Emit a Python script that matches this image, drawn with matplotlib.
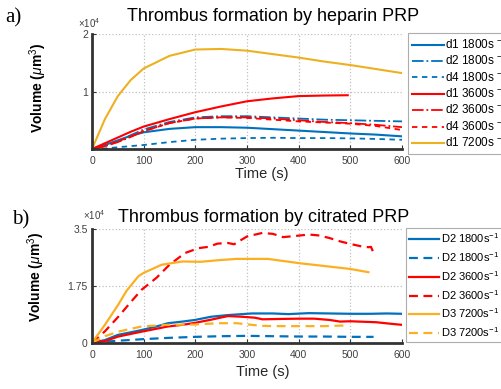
import matplotlib
matplotlib.use('Agg')
import matplotlib.pyplot as plt

plt.rcParams['font.family'] = ['Liberation Sans', 'DejaVu Sans']
plt.rcParams['mathtext.fontset'] = 'custom'
plt.rcParams['mathtext.rm'] = 'Liberation Sans'
plt.rcParams['mathtext.it'] = 'Liberation Sans:italic'

# ---- a) heparin PRP, volumes in units of 1e4 um^3
t_hep = [0, 25, 50, 75, 100, 150, 200, 250, 300, 350, 400, 450, 500, 550, 600]
d1_1800 = [0, 0.07, 0.15, 0.23, 0.29, 0.35, 0.38, 0.38, 0.37, 0.345, 0.32, 0.295, 0.27, 0.25, 0.22]
d2_1800 = [0, 0.06, 0.14, 0.24, 0.34, 0.47, 0.55, 0.57, 0.57, 0.55, 0.53, 0.51, 0.50, 0.49, 0.48]
d4_1800 = [0, 0.01, 0.03, 0.05, 0.07, 0.12, 0.16, 0.18, 0.19, 0.195, 0.19, 0.19, 0.185, 0.175, 0.16]
t_d1_3600 = [0, 25, 50, 75, 100, 150, 200, 250, 300, 350, 400, 450, 495]
d1_3600 = [0, 0.1, 0.2, 0.3, 0.39, 0.52, 0.64, 0.74, 0.83, 0.88, 0.92, 0.93, 0.935]
d2_3600 = [0, 0.05, 0.12, 0.21, 0.31, 0.45, 0.53, 0.55, 0.55, 0.53, 0.50, 0.47, 0.45, 0.42, 0.38]
d4_3600 = [0, 0.05, 0.13, 0.22, 0.31, 0.45, 0.53, 0.55, 0.54, 0.51, 0.48, 0.46, 0.44, 0.40, 0.33]
d1_7200 = [0, 0.52, 0.92, 1.2, 1.4, 1.62, 1.73, 1.74, 1.71, 1.65, 1.59, 1.52, 1.46, 1.39, 1.32]

# ---- b) citrated PRP
t_c_blue = [0, 25, 50, 75, 96, 125, 147, 175, 199, 231, 263, 309, 350, 380, 420, 460, 500, 540, 570, 600]
c_d2_1800 = [0, 0.08, 0.24, 0.32, 0.39, 0.5, 0.6, 0.65, 0.70, 0.80, 0.85, 0.90, 0.9, 0.88, 0.91, 0.9, 0.89, 0.89, 0.9, 0.89]
t_c_blue2 = [0, 25, 50, 100, 150, 200, 250, 300, 350, 400, 450, 500, 545]
c_d2_1800b = [0, 0.03, 0.06, 0.11, 0.15, 0.18, 0.2, 0.21, 0.2, 0.19, 0.19, 0.18, 0.18]
t_c_red = [0, 25, 51, 75, 96, 125, 147, 175, 199, 231, 263, 289, 315, 330, 360, 400, 430, 460, 480, 500, 550, 580, 600]
c_d2_3600 = [0, 0.05, 0.19, 0.27, 0.34, 0.43, 0.5, 0.55, 0.61, 0.71, 0.82, 0.80, 0.77, 0.72, 0.73, 0.74, 0.74, 0.70, 0.65, 0.66, 0.63, 0.58, 0.55]
t_c_red2 = [0, 25, 51, 75, 96, 125, 150, 180, 206, 225, 243, 263, 275, 300, 330, 350, 370, 390, 420, 440, 460, 480, 500, 520, 535, 540, 545]
c_d2_3600b = [0, 0.35, 0.8, 1.25, 1.63, 2.0, 2.4, 2.76, 2.91, 2.95, 3.05, 3.07, 3.03, 3.27, 3.38, 3.35, 3.25, 3.28, 3.33, 3.3, 3.22, 3.12, 3.04, 2.97, 2.94, 2.95, 2.76]
t_c_yel = [0, 25, 50, 67, 90, 100, 135, 175, 210, 245, 280, 340, 400, 450, 500, 535]
c_d3_7200 = [0, 0.55, 1.15, 1.6, 2.05, 2.15, 2.4, 2.5, 2.49, 2.54, 2.58, 2.58, 2.45, 2.36, 2.27, 2.17]
t_c_yel2 = [0, 25, 51, 96, 147, 200, 244, 280, 309, 330, 350, 400, 450, 490]
c_d3_7200b = [0, 0.2, 0.34, 0.5, 0.55, 0.56, 0.6, 0.6, 0.55, 0.52, 0.51, 0.51, 0.51, 0.53]

blue = '#0072BD'
red = '#FF0000'
yel = '#EDB120'
orange = '#FDAF22'

fig = plt.figure(figsize=(5.01, 3.89), dpi=100)
ax1 = fig.add_axes([92 / 501, 1 - 149 / 389, 310 / 501, 115 / 389])
ax2 = fig.add_axes([92 / 501, 1 - 342.7 / 389, 310 / 501, 113.7 / 389])

ax1.plot(t_hep, d1_1800, c=blue, lw=1.5, label='d1 1800s $^{-1}$')
ax1.plot(t_hep, d2_1800, c=blue, lw=1.3, ls='-.', label='d2 1800s $^{-1}$')
ax1.plot(t_hep, d4_1800, c=blue, lw=1.3, ls=(0, (3, 2.5)), label='d4 1800s $^{-1}$')
ax1.plot(t_d1_3600, d1_3600, c=red, lw=1.5, label='d1 3600s $^{-1}$')
ax1.plot(t_hep, d2_3600, c=red, lw=1.3, ls='-.', label='d2 3600s $^{-1}$')
ax1.plot(t_hep, d4_3600, c=red, lw=1.3, ls=(0, (3, 2.5)), label='d4 3600s $^{-1}$')
ax1.plot(t_hep, d1_7200, c=yel, lw=1.5, label='d1 7200s $^{-1}$')

ax2.plot(t_c_blue, c_d2_1800, c=blue, lw=1.6, label='D2 1800s$^{-1}$')
ax2.plot(t_c_blue2, c_d2_1800b, c=blue, lw=1.6, ls=(0, (4, 2.5)), label='D2 1800s$^{-1}$')
ax2.plot(t_c_red, c_d2_3600, c=red, lw=1.6, label='D2 3600s$^{-1}$')
ax2.plot(t_c_red2, c_d2_3600b, c=red, lw=1.6, ls=(0, (4, 2.5)), label='D2 3600s$^{-1}$')
ax2.plot(t_c_yel, c_d3_7200, c=orange, lw=1.6, label='D3 7200s$^{-1}$')
ax2.plot(t_c_yel2, c_d3_7200b, c=orange, lw=1.6, ls=(0, (4, 2.5)), label='D3 7200s$^{-1}$')

for ax in (ax1, ax2):
    ax.set_xlim(0, 600)
    ax.set_xticks([0, 100, 200, 300, 400, 500, 600])
    ax.grid(True, ls=':', color='#c0c0c0', lw=0.9)
    ax.set_axisbelow(True)
    for s in ('top', 'right'):
        ax.spines[s].set_visible(False)
    for s in ('left', 'bottom'):
        ax.spines[s].set_color('#333333')
        ax.spines[s].set_linewidth(2)
    ax.tick_params(direction='in', length=3, width=0.8, colors='#333333', labelsize=7.5,
                   labelcolor='#404040', pad=3)
    ax.tick_params(axis='x', pad=5)
    ax.set_xlabel('Time (s)', fontsize=10.5, color='#262626')

ax1.set_ylim(0, 2)
ax1.set_yticks([1, 2])
ax1.set_yticklabels(['1', '2'])
ax2.set_ylim(0, 3.5)
ax2.set_yticks([0, 1.75, 3.5])
ax2.set_yticklabels(['0', '1.75', '3.5'])

ax1.xaxis.set_label_coords(0.548, -0.16)
ax2.xaxis.set_label_coords(0.552, -0.2)
ax1.set_ylabel(r'Volume ($\mu$m$^3$)', fontsize=10, fontweight='bold')
ax2.set_ylabel(r'Volume ($\mu$m$^3$)', fontsize=10, fontweight='bold')
ax1.yaxis.set_label_coords(-0.139, 0.53)
ax2.yaxis.set_label_coords(-0.145, 0.58)

# exponent labels
fig.text(78 / 501, 1 - 28 / 389, r'$\times$10$^4$', fontsize=7, color='#404040')
fig.text(83 / 501, 1 - 220 / 389, r'$\times$10$^4$', fontsize=7, color='#404040')

# titles and panel labels
fig.text(127 / 501, 1 - 21 / 389, 'Thrombus formation by heparin PRP', fontsize=13)
fig.text(118 / 501, 1 - 222 / 389, 'Thrombus formation by citrated PRP', fontsize=13)
fig.text(5 / 501, 1 - 22 / 389, 'a)', fontsize=15, family='Liberation Serif')
fig.text(12 / 501, 1 - 224 / 389, 'b)', fontsize=15, family='Liberation Serif')

leg1 = ax1.legend(loc='upper left', bbox_to_anchor=(408 / 501, 1 - 33 / 389),
                  bbox_transform=fig.transFigure, fontsize=8.5, frameon=True, fancybox=False,
                  handlelength=2.75, handletextpad=0.1, labelspacing=0.1, borderpad=0.3,
                  borderaxespad=0)
leg1.get_frame().set_edgecolor('#999999')
leg1.get_frame().set_linewidth(0.8)

leg2 = ax2.legend(loc='upper left', bbox_to_anchor=(406 / 501, 1 - 228 / 389),
                  bbox_transform=fig.transFigure, fontsize=8, frameon=True, fancybox=False,
                  handlelength=2.7, handletextpad=0.15, labelspacing=0.45, borderpad=0.3,
                  borderaxespad=0)
leg2.get_frame().set_edgecolor('#999999')
leg2.get_frame().set_linewidth(0.8)

fig.savefig('out.png', dpi=100)
